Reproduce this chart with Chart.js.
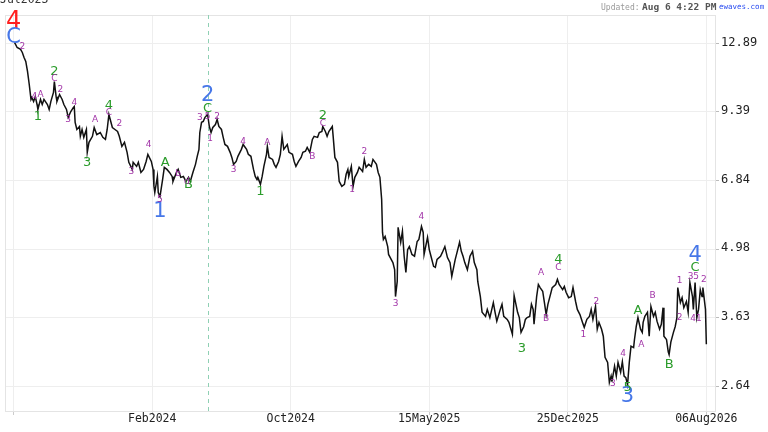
<!DOCTYPE html>
<html lang="en">
<head>
  <meta charset="UTF-8">
  <title>Elliott wave chart</title>
  <script src="https://cdn.jsdelivr.net/npm/chart.js"></script>
  <style>
    html, body { margin: 0; padding: 0; background: #fff; overflow: hidden; }
    #wrap { position: relative; width: 768px; height: 432px; overflow: hidden; }
    .hdr { position: absolute; white-space: pre; font-family: 'DejaVu Sans Mono', monospace; line-height: 1.15; }
  </style>
</head>
<body>
  <div id="wrap">
    <canvas id="chart" width="768" height="432"></canvas>
    <div class="hdr" style="left:0;top:-7px;font-size:11.5px;color:#333">Jul2023</div>
    <div class="hdr" style="left:601px;top:3px;font-size:8px;color:#9a9a9a">Updated:</div>
    <div class="hdr" style="left:642px;top:2px;font-size:9.5px;font-weight:bold;color:#555">Aug 6 4:22 PM</div>
    <div class="hdr" style="left:719px;top:3px;font-size:7.5px;color:#2a4cf0">ewaves.com</div>
  </div>

  <script>
    // trading session number (0 = Jul2023) and closing price
    const sessions = [
      1, 4, 8, 10, 12, 14, 16, 18, 20, 21,
      23, 25, 27, 28, 31, 33, 35, 39, 41, 43,
      46, 47, 49, 50, 53, 56, 58, 61, 63, 66,
      69, 70, 71, 73, 76, 77, 79, 81, 84, 85,
      87, 91, 93, 96, 100, 103, 106, 108, 110, 114,
      117, 120, 122, 125, 128, 131, 133, 137, 138, 142,
      144, 147, 150, 153, 155, 159, 161, 162, 163, 166,
      167, 169, 172, 174, 177, 180, 183, 184, 188, 190,
      193, 196, 199, 202, 204, 207, 210, 212, 214, 215,
      217, 219, 221, 224, 226, 228, 230, 233, 235, 237,
      240, 242, 244, 247, 250, 252, 254, 257, 259, 263,
      265, 269, 271, 274, 277, 279, 281, 282, 285, 287,
      289, 292, 293, 295, 299, 301, 303, 306, 308, 310,
      312, 316, 318, 322, 324, 326, 329, 332, 334, 337,
      339, 342, 345, 347, 351, 353, 356, 357, 360, 362,
      364, 368, 369, 371, 374, 376, 379, 382, 384, 386,
      387, 390, 392, 394, 397, 399, 403, 405, 407, 410,
      413, 415, 419, 421, 423, 425, 426, 427, 429, 432,
      433, 436, 438, 440, 441, 443, 444, 447, 449, 451,
      453, 455, 457, 460, 463, 466, 468, 471, 473, 474,
      478, 480, 482, 485, 487, 489, 493, 495, 498, 501,
      504, 506, 510, 512, 515, 517, 519, 521, 524, 527,
      530, 532, 535, 536, 539, 541, 545, 547, 550, 554,
      556, 558, 562, 564, 566, 570, 572, 576, 578, 582,
      584, 586, 589, 591, 593, 596, 598, 600, 601, 604,
      606, 608, 611, 613, 615, 617, 620, 622, 626, 628,
      630, 634, 636, 638, 641, 644, 646, 649, 651, 654,
      657, 659, 662, 665, 667, 669, 672, 674, 676, 679,
      681, 683, 686, 688, 690, 691, 694, 696, 698, 701,
      703, 705, 707, 709, 711, 713, 716, 717, 719, 721,
      724, 726, 727, 729, 732, 734, 736, 739, 741, 743,
      746, 748, 750, 751, 754, 756, 757, 759, 762, 764,
      766, 767, 770, 772, 774, 777, 779, 781, 784, 785,
      787, 789, 791, 793, 795, 796, 799, 800
    ];
    const closes = [
      12.95, 12.65, 12.54, 12.36, 12.08, 11.86, 11.33, 10.66, 9.95, 10.04,
      9.86, 10.09, 9.72, 9.50, 9.95, 9.72, 9.95, 9.72, 9.50, 9.86,
      10.28, 10.81, 10.09, 9.86, 10.18, 9.95, 9.72, 9.50, 9.16, 9.41,
      9.59, 9.63, 8.95, 8.66, 8.78, 8.39, 8.66, 8.35, 8.66, 7.79,
      8.16, 8.39, 8.74, 8.46, 8.54, 8.35, 8.27, 8.66, 9.28, 8.74,
      8.66, 8.58, 8.39, 8.01, 8.16, 7.79, 7.44, 7.20, 7.44, 7.30,
      7.44, 7.10, 7.20, 7.47, 7.72, 7.47, 7.20, 6.66, 6.47, 6.97,
      6.47, 6.35, 6.87, 7.27, 7.20, 7.10, 6.97, 6.81, 7.10, 7.20,
      6.94, 6.97, 6.81, 6.94, 6.81, 7.10, 7.37, 7.65, 7.90, 8.54,
      8.95, 8.99, 9.16, 9.28, 8.78, 8.54, 8.74, 8.86, 9.07, 8.78,
      8.66, 8.35, 8.08, 8.01, 7.79, 7.61, 7.37, 7.47, 7.65, 7.90,
      8.08, 7.90, 7.72, 7.65, 7.20, 6.97, 6.87, 6.94, 6.72, 6.97,
      7.30, 7.72, 8.01, 7.61, 7.54, 7.37, 7.27, 7.47, 7.72, 8.39,
      7.90, 8.08, 7.79, 7.72, 7.47, 7.30, 7.47, 7.61, 7.79, 7.83,
      7.97, 7.79, 8.27, 8.39, 8.35, 8.54, 8.58, 8.78, 8.58, 8.39,
      8.58, 8.78, 8.39, 7.61, 7.44, 6.81, 6.66, 6.72, 7.04, 7.20,
      6.97, 7.30, 6.66, 6.94, 7.10, 7.27, 7.13, 7.54, 7.27, 7.37,
      7.30, 7.54, 7.37, 7.10, 6.94, 6.27, 5.38, 5.21, 5.28, 5.04,
      4.86, 4.75, 4.68, 4.53, 4.00, 4.29, 5.51, 5.14, 5.41, 4.82,
      4.47, 4.97, 5.04, 4.86, 4.82, 5.16, 5.21, 5.53, 5.38, 4.86,
      5.26, 4.97, 4.82, 4.60, 4.58, 4.75, 4.82, 4.90, 5.04, 4.79,
      4.68, 4.39, 4.75, 4.90, 5.14, 4.93, 4.82, 4.68, 4.53, 4.82,
      4.93, 4.68, 4.53, 4.29, 4.00, 3.72, 3.65, 3.77, 3.63, 3.89,
      3.72, 3.57, 3.77, 3.86, 3.65, 3.60, 3.55, 3.36, 4.02, 3.72,
      3.63, 3.39, 3.48, 3.60, 3.63, 3.65, 3.86, 3.77, 3.52, 4.00,
      4.23, 4.17, 4.10, 3.89, 3.68, 3.86, 4.04, 4.17, 4.23, 4.33,
      4.23, 4.13, 4.19, 4.08, 3.98, 4.00, 4.17, 3.91, 3.77, 3.68,
      3.55, 3.47, 3.60, 3.65, 3.77, 3.60, 3.82, 3.44, 3.55, 3.44,
      3.33, 3.02, 2.95, 2.69, 2.77, 2.70, 2.90, 2.77, 2.95, 2.82,
      2.96, 2.77, 2.75, 2.66, 2.95, 3.18, 3.16, 3.28, 3.48, 3.63,
      3.44, 3.39, 3.55, 3.65, 3.72, 3.33, 3.82, 3.65, 3.72, 3.57,
      3.44, 3.52, 3.80, 3.33, 3.28, 3.10, 3.06, 3.24, 3.39, 3.48,
      3.63, 4.17, 3.89, 3.98, 3.80, 3.91, 3.72, 4.27, 4.00, 3.77,
      4.27, 3.63, 3.77, 4.13, 4.00, 4.17, 3.77, 3.21
    ];

    const xTickSessions = [0, 160, 320, 480, 640, 800];
    const xTickLabels = ['', 'Feb2024', 'Oct2024', '15May2025', '25Dec2025', '06Aug2026'];
    const yTicks = [2.64, 3.63, 4.98, 6.84, 9.39, 12.89];
    const markerSession = 224;   // dashed vertical marker

    // wave labels: [text, session, price]
    const cycleLabels = [['4', 0, 14.27]];
    const primaryLabels = [['C', 0, 13.25], ['1', 169, 5.93], ['2', 224, 10.14], ['3', 709, 2.52], ['4', 787, 4.84]];
    const intermediateLabels = [
      ['1', 28, 9.20], ['2', 47, 11.33], ['3', 85, 7.44], ['4', 110, 9.68], ['A', 175, 7.44],
      ['B', 202, 6.72], ['C', 224, 9.54], ['1', 285, 6.50], ['2', 357, 9.24], ['3', 587, 3.15],
      ['4', 629, 4.75], ['A', 721, 3.75], ['B', 757, 2.92], ['C', 787, 4.58], ['5', 709, 2.63]
    ];
    const minorLabels = [
      ['2', 10, 12.71], ['4', 24, 10.09], ['A', 31, 10.18], ['C', 47, 10.96], ['2', 54, 10.42],
      ['3', 63, 9.07], ['4', 70, 9.81], ['A', 94, 9.07], ['C', 110, 9.37], ['2', 122, 8.91],
      ['3', 136, 7.13], ['4', 156, 8.08], ['5', 169, 6.27], ['b', 190, 7.07], ['d', 200, 6.81],
      ['3', 215, 9.16], ['5', 224, 9.20], ['1', 227, 8.31], ['2', 235, 9.20], ['3', 254, 7.20],
      ['4', 265, 8.20], ['A', 293, 8.16], ['B', 345, 7.65], ['C', 357, 8.91], ['1', 391, 6.56],
      ['2', 405, 7.83], ['3', 441, 3.87], ['4', 471, 5.79], ['A', 609, 4.47], ['B', 615, 3.61],
      ['C', 629, 4.58], ['1', 658, 3.36], ['2', 673, 3.91], ['3', 692, 2.67], ['4', 704, 3.07],
      ['A', 725, 3.20], ['B', 738, 4.02], ['1', 769, 4.31], ['2', 769, 3.63], ['35', 785, 4.39],
      ['41', 788, 3.62], ['2', 797, 4.33]
    ];

    const labelGroups = [
      { list: cycleLabels, color: '#ff1f1f', font: '24px "DejaVu Sans"' },
      { list: primaryLabels, color: '#4677e8', font: '21px "DejaVu Sans"' },
      { list: intermediateLabels, color: '#2b9c2b', font: '13px "DejaVu Sans"' },
      { list: minorLabels, color: '#a235a8', font: '9px "DejaVu Sans"' }
    ];

    const wavePlugin = {
      id: 'waves',
      beforeDatasetsDraw(chart) {
        const { ctx, chartArea, scales } = chart;
        ctx.save();
        ctx.strokeStyle = '#e4e4e4';
        ctx.lineWidth = 1;
        ctx.strokeRect(chartArea.left + 0.5, chartArea.top + 0.5, chartArea.width, chartArea.height);
        const x = Math.round(scales.x.getPixelForValue(markerSession)) + 0.5;
        ctx.strokeStyle = '#8fd0b4';
        ctx.setLineDash([4, 4]);
        ctx.beginPath();
        ctx.moveTo(x, chartArea.top);
        ctx.lineTo(x, chartArea.bottom);
        ctx.stroke();
        ctx.restore();
      },
      afterDatasetsDraw(chart) {
        const { ctx, scales } = chart;
        ctx.save();
        ctx.textAlign = 'center';
        ctx.textBaseline = 'middle';
        labelGroups.forEach(g => {
          ctx.fillStyle = g.color;
          ctx.font = g.font;
          g.list.forEach(([text, s, p]) => {
            ctx.fillText(text, scales.x.getPixelForValue(s), scales.y.getPixelForValue(p));
          });
        });
        ctx.restore();
      }
    };

    new Chart(document.getElementById('chart'), {
      type: 'line',
      data: {
        datasets: [{
          data: sessions.map((s, i) => ({ x: s, y: closes[i] })),
          borderColor: '#111111',
          borderWidth: 1.5,
          pointRadius: 0,
          tension: 0
        }]
      },
      options: {
        responsive: false,
        animation: false,
        layout: { padding: { left: 5, top: 15, right: 0, bottom: 0 } },
        plugins: { legend: { display: false }, tooltip: { enabled: false } },
        scales: {
          x: {
            type: 'linear',
            min: -10,
            max: 810,
            afterBuildTicks: s => { s.ticks = xTickSessions.map(v => ({ value: v })); },
            afterFit: s => { s.height = 21; },
            border: { display: false },
            grid: { color: '#eeeeee', tickLength: 4, tickColor: '#cccccc' },
            ticks: {
              autoSkip: false,
              maxRotation: 0,
              padding: -3,
              color: '#222',
              font: { family: 'DejaVu Sans Mono', size: 11.5 },
              callback: (v, i) => xTickLabels[i]
            }
          },
          y: {
            type: 'logarithmic',
            position: 'right',
            min: 2.357,
            max: 14.70,
            afterBuildTicks: s => { s.ticks = yTicks.map(v => ({ value: v })); },
            afterFit: s => { s.width = 53; },
            border: { display: false },
            grid: { color: '#eeeeee', tickLength: 4, tickColor: '#bbbbbb' },
            ticks: {
              padding: 2,
              labelOffset: -1,
              color: '#222',
              font: { family: 'DejaVu Sans Mono', size: 12 },
              callback: v => Number(v).toFixed(2)
            }
          }
        }
      },
      plugins: [wavePlugin]
    });
  </script>
</body>
</html>
